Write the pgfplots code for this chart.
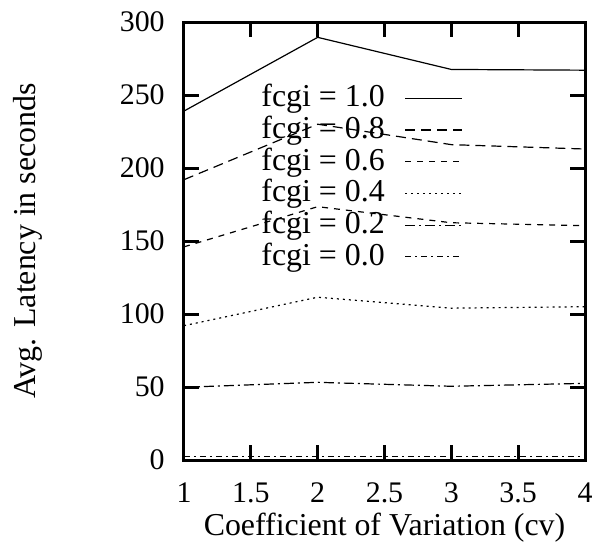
\documentclass[border=0pt]{standalone}
\usepackage{pgfplots}
\pgfplotsset{compat=1.18}
\usepackage{fontspec}
\setmainfont{Liberation Serif}
\begin{document}
\fontsize{15}{18}\selectfont
\begin{tikzpicture}
\begin{axis}[
  name=ax,
  scale only axis,
  width=200.5bp, height=219bp,
  xmin=1, xmax=4, ymin=0, ymax=300,
  xtick={1,1.5,2,2.5,3,3.5,4},
  xticklabels={1,1.5,2,2.5,3,3.5,4},
  ytick={0,50,100,150,200,250,300},
  yticklabels={0,50,100,150,200,250,300},
  tick align=inside,
  major tick length=7.5bp,
  axis line style={line width=1.5bp},
  every tick/.style={line width=1.5bp, black},
  tick label style={font=\fontsize{15}{18}\selectfont},
  xticklabel style={yshift=-6bp},
  yticklabel style={xshift=-4.5bp},
  label style={font=\fontsize{16}{19}\selectfont},
  xlabel={Coefficient of Variation (cv)},
  ylabel={Avg. Latency in seconds},
  xlabel style={at={(axis description cs:0.5,0)}, anchor=base, yshift=-37.5bp},
  ylabel style={at={(axis description cs:0,0.5)}, anchor=center, yshift=78bp},
  legend style={draw=none, fill=none, at={(0.192,0.862)}, anchor=north west,
    inner sep=0pt, row sep=0.35bp, column sep=10bp,
    nodes={inner sep=0pt, text height=12bp, text depth=3.5bp, font=\fontsize{16}{19}\selectfont}},
  legend plot pos=right,
  legend image code/.code={\draw[#1] (0bp,0bp) -- (28.5bp,0bp);},
  every axis plot/.append style={line width=0.6bp, black},
  clip=true,
]
\addplot[solid] coordinates {(1,239) (2,289.5) (3,267.5) (4,267)};
\addlegendentry{fcgi = 1.0}
\addplot[dash pattern=on 5bp off 3bp] coordinates {(1,192) (2,230) (3,216) (4,213)};
\addlegendentry{fcgi = 0.8}
\addplot[dash pattern=on 3bp off 3bp] coordinates {(1,146) (2,173.5) (3,162.5) (4,160.5)};
\addlegendentry{fcgi = 0.6}
\addplot[dash pattern=on 1bp off 2bp] coordinates {(1,92) (2,111.5) (3,104) (4,105)};
\addlegendentry{fcgi = 0.4}
\addplot[dash pattern=on 5bp off 2bp on 1bp off 2bp] coordinates {(1,49.8) (2,53.2) (3,50.5) (4,52.5)};
\addlegendentry{fcgi = 0.2}
\addplot[dash pattern=on 3bp off 2bp on 1bp off 2bp] coordinates {(1,2.5) (2,2.5) (3,2.5) (4,2.5)};
\addlegendentry{fcgi = 0.0}
\end{axis}
\pgfresetboundingbox
\path[use as bounding box] ([shift={(-92bp,-41bp)}]ax.south west) rectangle ([shift={(6bp,11bp)}]ax.north east);
\end{tikzpicture}
\end{document}
